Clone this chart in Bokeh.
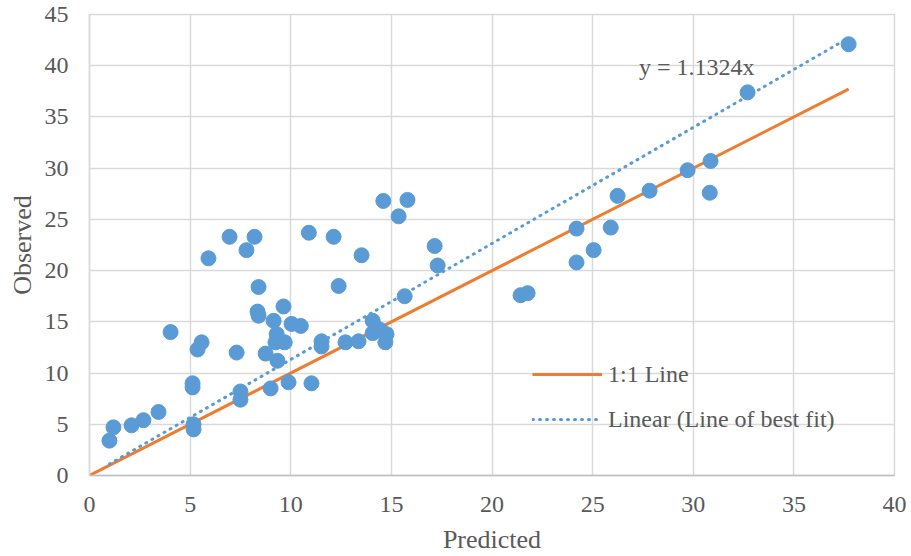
from bokeh.plotting import figure
from bokeh.models import Range1d, Label, Legend, LegendItem, ColumnDataSource, FixedTicker
from bokeh.embed import file_html
from bokeh.resources import INLINE

# Predicted vs observed values
predicted = [0.99, 1.19, 2.09, 2.68, 3.43, 4.03, 5.12, 5.12, 5.17, 5.17,
             5.37, 5.57, 5.91, 6.96, 7.31, 7.50, 7.50, 7.80, 8.20, 8.40,
             8.35, 8.40, 8.75, 9.00, 9.15, 9.30, 9.24, 9.34, 9.70, 9.64,
             10.04, 9.89, 10.50, 10.90, 11.03, 11.53, 11.53, 12.13, 12.38, 12.72,
             13.37, 13.52, 14.07, 14.07, 14.26, 14.60, 14.46, 14.76, 14.70, 15.36,
             15.66, 15.80, 17.15, 17.30, 21.42, 21.77, 24.20, 24.20, 25.05, 25.90,
             26.24, 27.83, 29.72, 30.86, 30.82, 32.70, 37.72]
observed = [3.4, 4.7, 4.9, 5.4, 6.2, 14.0, 9.0, 8.6, 5.0, 4.5,
            12.3, 13.0, 21.2, 23.3, 12.0, 8.2, 7.4, 22.0, 23.3, 18.4,
            16.0, 15.6, 11.9, 8.5, 15.1, 13.8, 13.0, 11.2, 13.0, 16.5,
            14.8, 9.1, 14.6, 23.7, 9.0, 13.1, 12.6, 23.3, 18.5, 13.0,
            13.1, 21.5, 15.1, 13.9, 14.4, 26.8, 14.2, 13.8, 13.0, 25.3,
            17.5, 26.9, 22.4, 20.5, 17.6, 17.8, 24.1, 20.8, 22.0, 24.2,
            27.3, 27.8, 29.8, 30.7, 27.6, 37.4, 42.1]

slope = 1.1324
x_ticks = [0, 5, 10, 15, 20, 25, 30, 35, 40]
y_ticks = [0, 5, 10, 15, 20, 25, 30, 35, 40, 45]

FONT = "Liberation Serif"
TEXT = "#595959"
BLUE = "#5B9BD5"
ORANGE = "#ED7D31"
GRID = "#D9D9D9"

p = figure(width=911, height=556, output_backend="svg", toolbar_location=None,
           x_range=Range1d(0, 40), y_range=Range1d(0, 45),
           min_border_left=89, min_border_right=17, min_border_top=14, min_border_bottom=80)
p.outline_line_color = GRID
p.outline_line_width = 1.5
p.background_fill_color = "white"
p.border_fill_color = "white"

for g in (p.xgrid[0], p.ygrid[0]):
    g.grid_line_color = GRID
    g.grid_line_width = 1.5
p.xgrid[0].ticker = FixedTicker(ticks=x_ticks)
p.ygrid[0].ticker = FixedTicker(ticks=y_ticks)

p.xaxis.ticker = FixedTicker(ticks=x_ticks)
p.yaxis.ticker = FixedTicker(ticks=y_ticks)
for ax in (p.xaxis[0], p.yaxis[0]):
    ax.major_tick_line_color = None
    ax.minor_tick_line_color = None
    ax.major_tick_out = 0
    ax.major_tick_in = 0
    ax.major_label_text_font = FONT
    ax.major_label_text_font_size = "24px"
    ax.major_label_text_color = TEXT
    ax.axis_label_text_font = FONT
    ax.axis_label_text_font_size = "26px"
    ax.axis_label_text_font_style = "normal"
    ax.axis_label_text_color = TEXT
p.xaxis.axis_line_color = "#BFBFBF"
p.xaxis.axis_line_width = 1.5
p.yaxis.axis_line_color = GRID
p.yaxis.axis_line_width = 1.5
p.xaxis.axis_label = "Predicted"
p.yaxis.axis_label = "Observed"
p.xaxis.major_label_standoff = 21
p.xaxis.axis_label_standoff = 10
p.yaxis.major_label_standoff = 21
p.yaxis.axis_label_standoff = 5

# 1:1 reference line across the predicted range
one_to_one = p.line([0, max(predicted)], [0, max(predicted)],
                    line_color=ORANGE, line_width=3)

# Line of best fit through the origin
x_fit = [min(predicted), max(predicted)]
fit = p.line(x_fit, [slope * v for v in x_fit], line_color=BLUE, line_width=3,
             line_dash="1 6", line_cap="round")

src = ColumnDataSource(dict(x=predicted, y=observed))
p.scatter("x", "y", source=src, size=15, fill_color=BLUE, line_color=BLUE)

p.add_layout(Label(x=30.17, y=39.9, text=f"y = {slope:.4f}x", text_align="center",
                   text_baseline="alphabetic", text_font=FONT, text_font_size="24px",
                   text_color=TEXT))

legend = Legend(items=[LegendItem(label="1:1 Line", renderers=[one_to_one]),
                       LegendItem(label="Linear (Line of best fit)", renderers=[fit])],
                location=(443, 41), orientation="vertical",
                glyph_width=70, glyph_height=30, label_height=30, label_standoff=6,
                spacing=15, padding=0, margin=0,
                label_text_font=FONT, label_text_font_size="24px", label_text_color=TEXT,
                border_line_color=None, background_fill_alpha=0)
p.add_layout(legend)

open("out.html", "w").write(file_html(p, INLINE))
